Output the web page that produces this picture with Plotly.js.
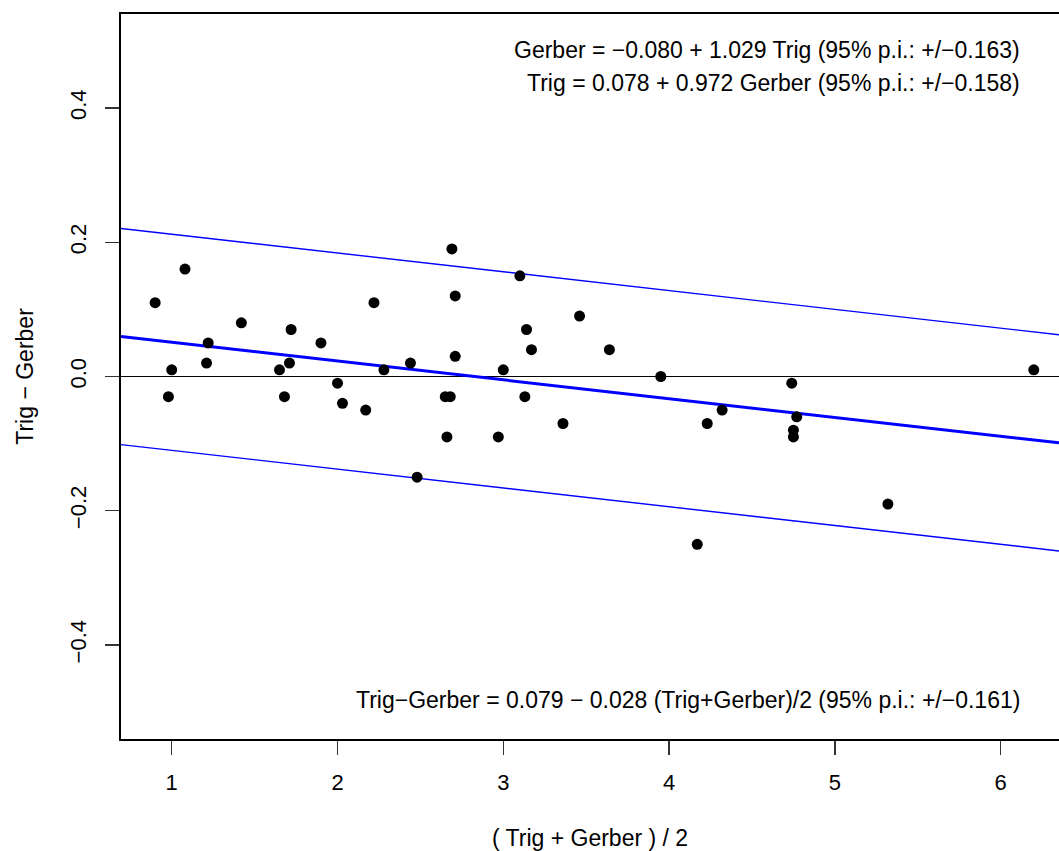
<!DOCTYPE html>
<html>
<head>
<meta charset="utf-8">
<script src="https://cdn.plot.ly/plotly-3.0.1.min.js"></script>
<style>
  html, body { margin: 0; padding: 0; background: #fff; overflow: hidden; }
  #chart { width: 1059px; height: 851px; }
</style>
</head>
<body>
<div id="chart"></div>
<script>
// Bland-Altman style data: mean of the two methods vs their difference
const meanValues = [
  0.90, 1.08, 1.00, 0.98, 1.21, 1.22, 1.42, 1.65, 1.68, 1.71, 1.72,
  1.90, 2.00, 2.03, 2.17, 2.22, 2.28, 2.44, 2.48, 2.65, 2.68, 2.66,
  2.69, 2.71, 2.71, 2.97, 3.00, 3.10, 3.13, 3.14, 3.17, 3.36, 3.46,
  3.64, 3.95, 4.17, 4.23, 4.32, 4.74, 4.75, 4.75, 4.77, 5.32, 6.20
];
const diffValues = [
  0.11, 0.16, 0.01, -0.03, 0.02, 0.05, 0.08, 0.01, -0.03, 0.02, 0.07,
  0.05, -0.01, -0.04, -0.05, 0.11, 0.01, 0.02, -0.15, -0.03, -0.03, -0.09,
  0.19, 0.12, 0.03, -0.09, 0.01, 0.15, -0.03, 0.07, 0.04, -0.07, 0.09,
  0.04, 0.00, -0.25, -0.07, -0.05, -0.01, -0.08, -0.09, -0.06, -0.19, 0.01
];

// Regression of difference on mean
const fitIntercept = 0.079;
const fitSlope = -0.028;
const piHalfWidth = 0.161;

// Axes
const xRange = [0.694, 6.352];
const yRange = [-0.54, 0.54];
const xTickValues = [1, 2, 3, 4, 5, 6];
const xTickLabels = ['1', '2', '3', '4', '5', '6'];
const yTickValues = [-0.4, -0.2, 0.0, 0.2, 0.4];
const yTickLabels = ['\u22120.4', '\u22120.2', '0.0', '0.2', '0.4'];

// Texts
const xTitle = '( Trig + Gerber ) / 2';
const yTitle = 'Trig \u2212 Gerber';
const noteLines = [
  'Gerber = \u22120.080 + 1.029 Trig (95% p.i.: +/\u22120.163)',
  'Trig = 0.078 + 0.972 Gerber (95% p.i.: +/\u22120.158)',
  'Trig\u2212Gerber = 0.079 \u2212 0.028 (Trig+Gerber)/2 (95% p.i.: +/\u22120.161)'
];

const FONT = '"Liberation Sans", Arial, Helvetica, sans-serif';
const FS = 23;
const TICK_FS = 22;

const lineX = xRange.slice();
const fitLine = (off) => lineX.map(x => fitIntercept + fitSlope * x + off);

const traces = [
  { x: lineX, y: fitLine(piHalfWidth), mode: 'lines', line: { color: '#0000ff', width: 1.4 }, hoverinfo: 'skip' },
  { x: lineX, y: fitLine(-piHalfWidth), mode: 'lines', line: { color: '#0000ff', width: 1.4 }, hoverinfo: 'skip' },
  { x: lineX, y: fitLine(0), mode: 'lines', line: { color: '#0000ff', width: 3 }, hoverinfo: 'skip' },
  { x: meanValues, y: diffValues, mode: 'markers', marker: { color: '#000000', size: 11, line: { width: 0 } } }
];

const layout = {
  width: 1059,
  height: 851,
  margin: { l: 121, r: 0, t: 14, b: 112, pad: 0 },
  paper_bgcolor: '#ffffff',
  plot_bgcolor: '#ffffff',
  showlegend: false,
  font: { family: FONT, size: FS, color: '#000000' },
  xaxis: {
    range: xRange,
    tickmode: 'array',
    tickvals: xTickValues,
    ticktext: xTickLabels,
    ticks: 'outside',
    ticklen: 14,
    tickwidth: 1.3,
    tickcolor: '#333333',
    ticklabelstandoff: 9,
    showgrid: false,
    zeroline: false,
    showline: true,
    linecolor: '#000000',
    linewidth: 1.8,
    mirror: true,
    tickfont: { family: FONT, size: TICK_FS, color: '#000000' },
    title: { text: xTitle, font: { family: FONT, size: FS, color: '#000000' }, standoff: 36 }
  },
  yaxis: {
    range: yRange,
    tickmode: 'array',
    tickvals: yTickValues,
    ticktext: yTickLabels,
    tickangle: -90,
    ticks: 'outside',
    ticklen: 14,
    tickwidth: 1.3,
    tickcolor: '#333333',
    ticklabelstandoff: 10,
    showgrid: false,
    zeroline: true,
    zerolinecolor: '#000000',
    zerolinewidth: 1.2,
    showline: true,
    linecolor: '#000000',
    linewidth: 1.8,
    mirror: false,
    tickfont: { family: FONT, size: TICK_FS, color: '#000000' },
    title: { text: yTitle, font: { family: FONT, size: FS, color: '#000000' }, standoff: 26 }
  },
  annotations: [
    { xref: 'paper', yref: 'paper', x: 0.9606, y: 0.950, xanchor: 'right', yanchor: 'middle', text: noteLines[0], showarrow: false, font: { family: FONT, size: FS, color: '#000' } },
    { xref: 'paper', yref: 'paper', x: 0.9606, y: 0.905, xanchor: 'right', yanchor: 'middle', text: noteLines[1], showarrow: false, font: { family: FONT, size: FS, color: '#000' } },
    { xref: 'paper', yref: 'paper', x: 0.9606, y: 0.054, xanchor: 'right', yanchor: 'middle', text: noteLines[2], showarrow: false, font: { family: FONT, size: FS, color: '#000' } }
  ]
};

Plotly.newPlot('chart', traces, layout, { displayModeBar: false, staticPlot: true });
</script>
</body>
</html>
